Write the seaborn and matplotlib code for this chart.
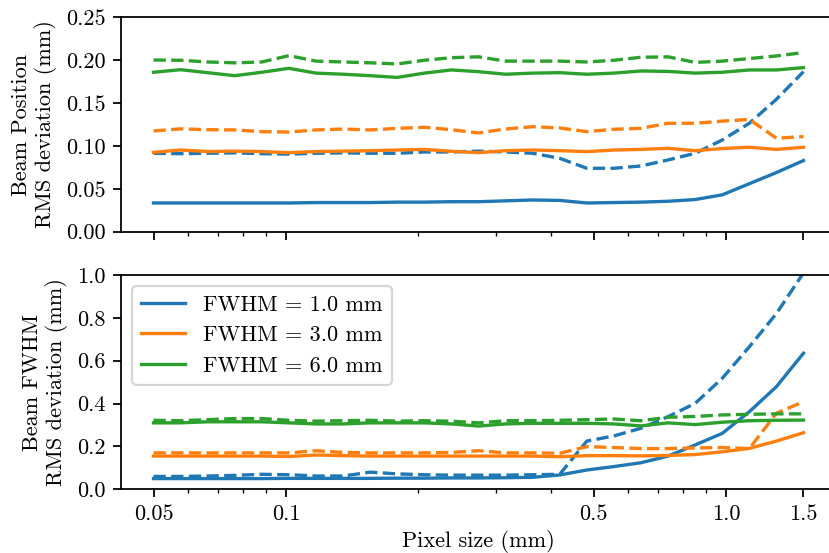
import matplotlib
matplotlib.use("Agg")
import matplotlib.pyplot as plt
import seaborn as sns
import pandas as pd
from matplotlib.lines import Line2D
from matplotlib.ticker import FixedLocator, FixedFormatter, NullFormatter, LogLocator

plt.rcParams.update({
    "font.family": "serif",
    "font.serif": ["cmr10", "DejaVu Serif"],
    "mathtext.fontset": "cm",
    "axes.unicode_minus": False,
    "axes.formatter.use_mathtext": True,
    "font.size": 10,
})

pixel_size = [0.05, 0.057613, 0.066384, 0.076491, 0.088137, 0.101557, 0.117019,
              0.134835, 0.155364, 0.179018, 0.206274, 0.237679, 0.273866,
              0.315562, 0.363606, 0.418966, 0.482753, 0.556252, 0.640941,
              0.738525, 0.850964, 0.980522, 1.129806, 1.301818, 1.5]

fwhm_labels = ["FWHM = 1.0 mm", "FWHM = 3.0 mm", "FWHM = 6.0 mm"]

# Beam position RMS deviation (mm): solid and dashed series
pos_solid_1 = [0.0335, 0.0335, 0.0335, 0.0335, 0.0335, 0.0335, 0.034, 0.034, 0.034, 0.0345,
               0.0345, 0.035, 0.035, 0.036, 0.037, 0.0365, 0.0335, 0.034, 0.0345, 0.0355,
               0.0375, 0.043, 0.056, 0.069, 0.083]
pos_dash_1 = [0.0915, 0.091, 0.0915, 0.092, 0.091, 0.0905, 0.0915, 0.092, 0.0915, 0.0915,
              0.093, 0.093, 0.094, 0.093, 0.0915, 0.0856, 0.074, 0.074, 0.0767, 0.0837,
              0.0915, 0.107, 0.1265, 0.1545, 0.1867]
pos_solid_3 = [0.0926, 0.0953, 0.0935, 0.094, 0.0935, 0.0922, 0.0935, 0.094, 0.0945, 0.0953,
               0.096, 0.0938, 0.0922, 0.0945, 0.0953, 0.0945, 0.0934, 0.0953, 0.096, 0.0973,
               0.0945, 0.097, 0.0985, 0.096, 0.0985]
pos_dash_3 = [0.1175, 0.120, 0.119, 0.1187, 0.1167, 0.1163, 0.1187, 0.1198, 0.1187, 0.1206,
              0.1218, 0.119, 0.1152, 0.1198, 0.1225, 0.121, 0.1167, 0.1195, 0.1206, 0.1265,
              0.1265, 0.129, 0.131, 0.109, 0.111]
pos_solid_6 = [0.186, 0.189, 0.1855, 0.182, 0.186, 0.1906, 0.185, 0.1837, 0.182, 0.180,
               0.185, 0.1887, 0.1867, 0.1837, 0.185, 0.1855, 0.1837, 0.185, 0.1875, 0.187,
               0.185, 0.186, 0.1887, 0.1887, 0.1914]
pos_dash_6 = [0.2003, 0.200, 0.198, 0.197, 0.198, 0.2054, 0.199, 0.198, 0.197, 0.1957,
              0.200, 0.203, 0.204, 0.199, 0.199, 0.199, 0.198, 0.200, 0.2035, 0.204,
              0.1975, 0.199, 0.202, 0.205, 0.209]

# Beam FWHM RMS deviation (mm)
fw_solid_1 = [0.05, 0.05, 0.05, 0.05, 0.05, 0.051, 0.051, 0.051, 0.051, 0.052,
              0.052, 0.053, 0.053, 0.054, 0.056, 0.067, 0.09, 0.106, 0.124, 0.155,
              0.207, 0.261, 0.362, 0.479, 0.635]
fw_dash_1 = [0.06, 0.06, 0.062, 0.065, 0.07, 0.068, 0.062, 0.062, 0.08, 0.072,
             0.068, 0.066, 0.066, 0.066, 0.068, 0.07, 0.225, 0.249, 0.285, 0.339,
             0.401, 0.518, 0.665, 0.82, 1.01]
fw_solid_3 = [0.155, 0.155, 0.155, 0.155, 0.155, 0.153, 0.16, 0.157, 0.155, 0.155,
              0.155, 0.155, 0.155, 0.155, 0.155, 0.152, 0.157, 0.157, 0.156, 0.158,
              0.162, 0.175, 0.191, 0.225, 0.264]
fw_dash_3 = [0.17, 0.17, 0.17, 0.17, 0.17, 0.17, 0.18, 0.172, 0.17, 0.17,
             0.17, 0.172, 0.18, 0.17, 0.17, 0.168, 0.199, 0.195, 0.19, 0.19,
             0.193, 0.195, 0.19, 0.355, 0.409]
fw_solid_6 = [0.31, 0.31, 0.315, 0.315, 0.315, 0.31, 0.305, 0.305, 0.31, 0.31,
              0.31, 0.305, 0.295, 0.305, 0.308, 0.308, 0.308, 0.305, 0.296, 0.31,
              0.302, 0.313, 0.32, 0.322, 0.323]
fw_dash_6 = [0.322, 0.32, 0.325, 0.33, 0.33, 0.322, 0.318, 0.32, 0.322, 0.318,
             0.32, 0.318, 0.31, 0.32, 0.32, 0.322, 0.325, 0.328, 0.32, 0.336,
             0.34, 0.347, 0.35, 0.352, 0.352]

x_ticks = [0.05, 0.1, 0.5, 1.0, 1.5]
x_tick_labels = ["0.05", "0.1", "0.5", "1.0", "1.5"]
colors = ["#1f77b4", "#ff7f0e", "#2ca02c"]


def build(solids, dashes):
    rows = []
    for lab, s, d in zip(fwhm_labels, solids, dashes):
        for x, v in zip(pixel_size, s):
            rows.append((x, v, lab, "solid"))
        for x, v in zip(pixel_size, d):
            rows.append((x, v, lab, "dashed"))
    return pd.DataFrame(rows, columns=["pixel", "value", "fwhm", "kind"])


df_pos = build([pos_solid_1, pos_solid_3, pos_solid_6], [pos_dash_1, pos_dash_3, pos_dash_6])
df_fw = build([fw_solid_1, fw_solid_3, fw_solid_6], [fw_dash_1, fw_dash_3, fw_dash_6])

dpi = 160
fig = plt.figure(figsize=(829 / dpi, 553 / dpi), dpi=dpi)
left = 121 / 829
width = (836 - 121) / 829
h = 214.3 / 553
ax1 = fig.add_axes([left, 1 - 231.7 / 553, width, h])
ax2 = fig.add_axes([left, 1 - 489.3 / 553, width, h], sharex=ax1)

palette = dict(zip(fwhm_labels, colors))
dash_map = {"solid": "", "dashed": (3.7, 1.6)}
for ax, df in ((ax1, df_pos), (ax2, df_fw)):
    sns.lineplot(data=df, x="pixel", y="value", hue="fwhm", style="kind",
                 palette=palette, dashes=dash_map, hue_order=fwhm_labels,
                 style_order=["solid", "dashed"], linewidth=1.5, legend=False,
                 ax=ax, estimator=None, sort=True)
    ax.set_xscale("log")
    ax.set_xlabel("")
    for s in ax.spines.values():
        s.set_color("black")

ax1.set_ylim(0, 0.25)
ax1.set_yticks([0.0, 0.05, 0.10, 0.15, 0.20, 0.25])
ax1.set_yticklabels(["0.00", "0.05", "0.10", "0.15", "0.20", "0.25"])
ax1.set_ylabel("Beam Position\nRMS deviation (mm)")

ax2.set_ylim(0, 1.0)
ax2.set_yticks([0.0, 0.2, 0.4, 0.6, 0.8, 1.0])
ax2.set_yticklabels(["0.0", "0.2", "0.4", "0.6", "0.8", "1.0"])
ax2.set_ylabel("Beam FWHM\nRMS deviation (mm)")
ax2.set_xlabel("Pixel size (mm)", labelpad=2.5)

ax2.xaxis.set_major_locator(FixedLocator(x_ticks))
ax2.xaxis.set_major_formatter(FixedFormatter(x_tick_labels))
ax2.xaxis.set_minor_locator(LogLocator(base=10, subs=(2, 3, 4, 5, 6, 7, 8, 9)))
ax2.xaxis.set_minor_formatter(NullFormatter())
ax1.tick_params(axis="x", which="both", labelbottom=False)

handles = [Line2D([], [], color=c, lw=1.5) for c in colors]
ax2.legend(handles, fwhm_labels, loc="upper left")

fig.savefig("out.png", dpi=dpi)
